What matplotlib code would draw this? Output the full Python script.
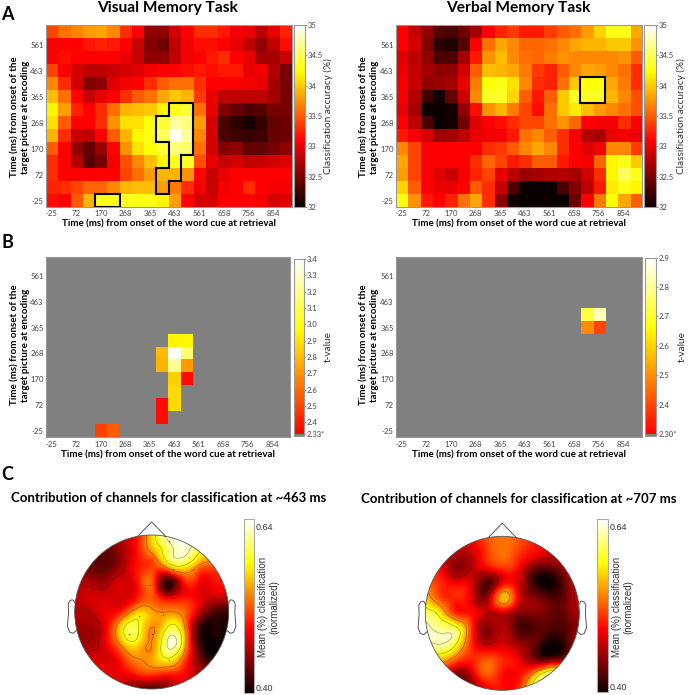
import numpy as np
import matplotlib
matplotlib.use('Agg')
import matplotlib.pyplot as plt
import matplotlib.tri as mtri
from matplotlib.colors import LinearSegmentedColormap
from matplotlib.patches import Circle

W, H = 688, 695
plt.rcParams['font.family'] = ['Lato', 'DejaVu Sans']

tempos = ['-25', '72', '170', '268', '365', '463', '561', '658', '756', '854']
tempos_y = tempos[:7]

# classification accuracy, bottom row (-25 ms) first
acc_visual = [
    [33.15,33.1,33.5,33.9,34.3,34.3,34.35,34.3,34.3,34.2,33.8,33.1,32.9,32.9,33.1,33.1,33.1,33.05,32.9,32.95],
    [33.25,33.3,33.4,33.55,33.55,33.7,33.9,33.95,33.95,33.8,33.65,33.3,33.05,32.85,33.05,33.1,33.3,33.1,33.05,33.05],
    [33.3,33.1,33.1,33.1,33.1,33.1,33.4,33.6,33.8,33.9,33.9,33.75,33.1,32.85,33.0,33.1,33.1,33.1,33.1,33.1],
    [33.3,33.1,32.75,32.35,32.5,33.05,33.45,33.7,33.95,34.2,34.3,34.35,33.45,33.0,32.85,32.9,32.8,32.85,32.9,32.95],
    [33.5,33.1,32.6,32.4,32.65,33.1,33.75,34.1,34.25,34.4,34.6,34.55,33.6,32.9,32.55,32.6,32.4,32.4,32.5,32.6],
    [33.9,33.3,32.85,32.8,33.1,33.5,33.9,34.2,34.3,34.5,34.95,34.7,33.7,32.9,32.3,32.25,32.2,32.25,32.4,32.45],
    [34.1,33.5,33.1,33.1,33.3,33.75,34.1,34.1,34.25,34.4,34.7,34.6,33.8,32.9,32.3,32.15,32.05,32.2,32.4,32.45],
    [34.2,33.8,33.25,33.1,33.3,33.6,33.9,33.95,34.0,34.2,34.3,34.4,33.6,33.0,32.55,32.4,32.3,32.35,32.5,32.5],
    [33.95,33.6,33.1,32.85,33.0,33.1,33.3,33.5,33.6,33.85,34.0,33.9,33.35,33.0,32.8,32.8,32.8,32.8,32.7,32.5],
    [33.7,33.3,32.9,32.55,32.6,32.95,33.05,33.1,33.3,33.5,33.6,33.6,33.3,33.1,33.1,33.1,33.05,33.0,32.7,32.5],
    [33.4,33.1,32.9,32.8,32.8,32.85,32.9,32.95,33.05,33.1,33.1,33.15,33.2,33.15,33.2,33.2,33.0,33.05,32.75,32.5],
    [33.1,33.15,33.1,33.1,33.1,33.1,33.0,32.85,32.6,32.6,32.8,33.05,33.1,33.2,33.3,33.1,33.0,32.7,32.7,32.85],
    [33.1,33.1,33.1,33.2,33.25,33.2,33.1,32.85,32.55,32.45,32.8,33.05,33.15,33.15,33.1,33.0,32.8,32.6,32.8,33.15],
    [33.4,33.6,33.7,33.8,33.85,33.7,33.3,33.1,32.6,32.6,32.9,33.1,33.3,33.3,33.2,33.05,33.0,32.8,33.0,33.25],
]
acc_verbal = [
    [34.3,33.75,33.2,33.1,33.25,33.6,33.85,33.3,32.6,32.05,32.0,32.0,32.0,32.0,32.45,33.1,33.65,34.25,33.85,33.5],
    [34.05,33.5,33.1,33.0,33.0,33.1,33.5,33.3,32.85,32.3,32.0,32.0,32.0,32.3,32.55,32.8,33.2,34.15,34.3,34.2],
    [33.8,33.4,33.1,32.95,32.85,33.05,33.25,33.4,33.0,32.8,32.65,32.7,32.75,32.75,32.7,32.9,33.3,34.2,34.5,34.3],
    [33.85,33.4,33.1,33.1,33.1,33.1,33.3,33.55,33.4,33.2,33.3,33.5,33.5,33.2,33.1,33.05,33.55,34.2,34.3,34.0],
    [33.7,33.4,33.1,33.1,33.1,33.1,33.1,33.3,33.35,33.5,33.7,33.85,33.7,33.3,33.1,32.95,33.05,33.7,33.7,33.35],
    [33.2,33.05,32.9,32.65,32.7,32.8,33.0,33.05,33.05,33.2,33.6,33.7,33.5,33.3,33.05,32.75,32.7,33.0,33.05,33.0],
    [33.1,32.8,32.3,32.0,32.05,32.45,32.95,33.1,33.15,33.3,33.4,33.4,33.6,33.75,33.55,33.1,33.05,33.05,33.3,33.1],
    [33.0,32.7,32.0,32.0,32.05,32.6,33.15,33.75,33.9,33.65,33.4,33.15,33.6,34.0,34.15,33.95,33.8,33.7,33.6,33.45],
    [33.05,32.75,32.25,32.05,32.4,32.85,33.7,34.35,34.35,34.05,33.5,33.2,33.5,34.0,34.35,34.35,34.35,33.9,33.7,33.45],
    [33.05,32.85,32.6,32.65,32.7,33.0,33.65,34.25,34.3,34.1,33.7,33.3,33.25,33.6,34.0,34.25,34.25,33.85,33.65,33.3],
    [33.0,32.85,32.7,32.6,32.6,32.9,33.5,33.95,33.9,33.85,33.65,33.35,33.25,33.5,33.7,33.85,33.8,33.7,33.6,33.3],
    [32.95,32.8,32.6,32.3,32.3,32.7,33.2,33.75,33.95,33.7,33.6,33.55,33.65,33.75,33.7,33.7,33.7,33.7,33.75,33.5],
    [33.1,32.9,32.55,32.15,32.1,32.35,33.1,33.6,33.85,33.7,33.55,33.55,33.6,33.7,33.85,33.9,33.9,34.0,34.0,33.75],
    [33.1,32.85,32.6,32.35,32.3,32.45,32.7,33.1,33.25,33.35,33.2,33.2,33.35,33.5,33.6,33.8,34.05,34.3,34.3,33.85],
]

# significant cells: row, column, t-value
t_linha_vis = [7, 7, 6, 6, 6, 5, 5, 5, 4, 4, 3, 2, 2, 1, 0, 0]
t_col_vis = [10, 11, 9, 10, 11, 9, 10, 11, 10, 11, 10, 9, 10, 9, 4, 5]
t_val_vis = [2.95, 2.95, 2.8, 3.38, 3.15, 2.78, 3.22, 2.72, 2.85, 2.36, 2.88, 2.36, 2.88, 2.36, 2.5, 2.57]
t_linha_ver = [9, 9, 8, 8]
t_col_ver = [15, 16, 15, 16]
t_val_ver = [2.72, 2.83, 2.5, 2.4]

# scalp maps, coarse grid, top row (front of the head) first
grade = [-1.2, -1.0, -0.8, -0.6, -0.4, -0.2, 0.0, 0.2, 0.4, 0.6, 0.8, 1.0, 1.2]
topo_463 = [
    [.47,.47,.47,.47,.47,.48,.56,.64,.65,.60,.50,.48,.48],
    [.45,.45,.45,.44,.46,.49,.57,.64,.65,.61,.52,.49,.49],
    [.45,.44,.43,.425,.45,.49,.55,.61,.64,.60,.55,.50,.49],
    [.45,.44,.43,.425,.45,.49,.51,.56,.59,.54,.52,.49,.49],
    [.46,.46,.45,.45,.47,.49,.52,.41,.49,.49,.49,.49,.48],
    [.46,.46,.47,.47,.47,.49,.52,.47,.49,.48,.47,.46,.45],
    [.46,.46,.46,.48,.50,.56,.55,.54,.53,.47,.42,.41,.41],
    [.45,.45,.45,.48,.57,.60,.54,.59,.56,.42,.40,.39,.39],
    [.45,.45,.45,.48,.55,.58,.54,.63,.58,.42,.39,.39,.39],
    [.46,.46,.47,.47,.50,.54,.55,.59,.53,.44,.40,.41,.42],
    [.46,.46,.47,.48,.48,.50,.51,.50,.49,.46,.46,.46,.46],
    [.46,.46,.46,.47,.46,.43,.42,.44,.47,.47,.47,.47,.47],
    [.46,.46,.46,.47,.46,.43,.42,.44,.47,.47,.47,.47,.47],
]
topo_707 = [
    [.48,.48,.48,.49,.50,.52,.52,.51,.49,.48,.48,.48,.48],
    [.48,.48,.47,.47,.49,.52,.53,.52,.49,.47,.47,.47,.47],
    [.47,.47,.47,.46,.47,.51,.53,.51,.49,.47,.46,.46,.46],
    [.49,.49,.48,.44,.46,.49,.51,.49,.44,.43,.45,.47,.47],
    [.52,.52,.50,.48,.47,.42,.48,.47,.41,.39,.43,.47,.47],
    [.57,.56,.51,.50,.47,.45,.56,.48,.44,.42,.43,.47,.47],
    [.61,.61,.57,.50,.49,.46,.47,.44,.44,.43,.43,.46,.46],
    [.64,.64,.62,.60,.50,.44,.46,.42,.42,.42,.42,.45,.46],
    [.62,.62,.63,.59,.50,.46,.47,.45,.43,.39,.41,.46,.46],
    [.55,.55,.56,.52,.50,.52,.50,.48,.44,.43,.45,.49,.50],
    [.50,.50,.50,.44,.47,.52,.49,.49,.55,.63,.61,.56,.52],
    [.48,.48,.48,.43,.44,.48,.49,.50,.60,.64,.63,.56,.52],
    [.48,.48,.48,.43,.44,.48,.49,.50,.60,.64,.63,.56,.52],
]
# the few electrode dots that can still be seen on the first map
canais_x = [.22, .28, -.02, -.17, -.29, .15, 0, .22]
canais_y = [.92, .56, .35, -.05, -.28, -.04, -.28, -.62]
orelha_x = [.994, 1.02, 1.036, 1.06, 1.084, 1.08, 1.094, 1.064, 1.02, .978]
orelha_y = [.111, .155, .157, .149, .111, -.011, -.186, -.263, -.277, -.24]

quente = plt.get_cmap('hot')
cmap_t = LinearSegmentedColormap.from_list('hot_t', quente(np.linspace(0.365, 1, 256)))
cmap_t.set_under('#808080')

fig = plt.figure(figsize=(W / 100, H / 100), dpi=100)


def eixo(x0, y0, x1, y1):
    return fig.add_axes([x0 / W, 1 - y1 / H, (x1 - x0) / W, (y1 - y0) / H])


def texto(x, y, s, **kw):
    kw.setdefault('ha', 'center')
    kw.setdefault('va', 'center')
    fig.text(x / W, 1 - y / H, s, **kw)


def contorno(ax, celulas):
    celulas = set(celulas)
    for r, c in celulas:
        if (r + 1, c) not in celulas:
            ax.plot([c - .5, c + .5], [r + .5, r + .5], 'k', lw=1.5, solid_capstyle='projecting')
        if (r - 1, c) not in celulas:
            ax.plot([c - .5, c + .5], [r - .5, r - .5], 'k', lw=1.5, solid_capstyle='projecting')
        if (r, c + 1) not in celulas:
            ax.plot([c + .5, c + .5], [r - .5, r + .5], 'k', lw=1.5, solid_capstyle='projecting')
        if (r, c - 1) not in celulas:
            ax.plot([c - .5, c - .5], [r - .5, r + .5], 'k', lw=1.5, solid_capstyle='projecting')


def mapa(box, dados, cmap, vmin, vmax, ylab_x, ylab_y, xlab_y):
    ax = eixo(*box)
    im = ax.imshow(dados, origin='lower', cmap=cmap, vmin=vmin, vmax=vmax, aspect='auto', interpolation='nearest')
    ax.set_xticks(range(0, 20, 2), tempos)
    ax.set_yticks(range(0, 14, 2), tempos_y)
    ax.tick_params(length=0, labelsize=5.6, colors='#444444', pad=1.5)
    ax.tick_params(axis='x', pad=2.5)
    for s in ax.spines.values():
        s.set_color('#999999')
        s.set_linewidth(0.8)
    meio_x = (box[0] + box[2]) / 2
    texto(meio_x, xlab_y, 'Time (ms) from onset of the word cue at retrieval', fontsize=7, fontweight='bold')
    texto(ylab_x, ylab_y, 'Time (ms) from onset of the\ntarget picture at encoding', fontsize=7,
          fontweight='bold', rotation=90, linespacing=1.25)
    return ax, im


def barra(im, box, ticks, labels, rotulo, rot_x, rot_y, **kw):
    cax = eixo(*box)
    cb = fig.colorbar(im, cax=cax, **kw)
    cb.set_ticks(ticks, labels=labels)
    cax.tick_params(length=1.2, width=0.4, labelsize=5.6, colors='#444444', pad=0.8)
    cb.outline.set_edgecolor('#999999')
    cb.outline.set_linewidth(0.8)
    texto(rot_x, rot_y, rotulo, fontsize=7.2, rotation=90, color='#333333')
    return cb


def cabeca(cx, cy, r, dados, bar_box, lab_x):
    lim = 1.25
    ax = eixo(cx - lim * r, cy - lim * r, cx + lim * r, cy + lim * r)
    ax.set_xlim(-lim, lim)
    ax.set_ylim(-lim, lim)
    ax.axis('off')
    xx, yy = np.meshgrid(grade, grade[::-1])
    tri = mtri.Triangulation(xx.ravel(), yy.ravel())
    interp = mtri.CubicTriInterpolator(tri, np.array(dados).ravel(), kind='min_E')
    fx, fy = np.meshgrid(np.linspace(-1.15, 1.15, 300), np.linspace(-1.15, 1.15, 300))
    z = np.clip(np.ma.filled(interp(fx, fy), np.nan), .39, .65)
    im = ax.imshow(z, origin='lower', extent=(-1.15, 1.15, -1.15, 1.15), cmap='hot', vmin=.3915, vmax=.6515)
    circ = Circle((0, 0), 1, transform=ax.transData, fc='none', ec='none')
    ax.add_patch(circ)
    im.set_clip_path(circ)
    cs = ax.contour(fx, fy, z, levels=[.43, .46, .54, .59, .63], colors='#222222', linewidths=0.3, alpha=.7)
    cs.set_clip_path(circ)
    ax.add_patch(Circle((0, 0), 1, fc='none', ec='#555555', lw=0.6))
    ax.plot([-.185, 0, .185], [.98, 1.17, .98], color='#555555', lw=0.7)
    ax.plot(orelha_x, orelha_y, color='#555555', lw=0.7)
    ax.plot(-np.array(orelha_x), orelha_y, color='#555555', lw=0.7)
    cax = eixo(*bar_box)
    cb = fig.colorbar(im, cax=cax)
    cb.set_ticks([.64, .40], labels=['0.64', '0.40'])
    cax.tick_params(length=0, labelsize=6.4, colors='#333333', pad=1)
    for t in cax.get_yticklabels():
        t.set_fontfamily('Liberation Sans')
    cb.outline.set_edgecolor('#aaaaaa')
    cb.outline.set_linewidth(0.8)
    texto(lab_x, 607, 'Mean (%) classification\n(normalized)', fontsize=7, rotation=90, color='#333333',
          family='Liberation Sans', linespacing=1.2)
    return ax


# A
ax1, im1 = mapa((45.7, 25, 291.7, 207), acc_visual, 'hot', 32, 35, 20, 117, 224)
contorno(ax1, [(7, 10), (7, 11), (6, 9), (6, 10), (6, 11), (5, 9), (5, 10), (5, 11), (4, 10), (4, 11),
               (3, 10), (2, 9), (2, 10), (1, 9)])
contorno(ax1, [(0, 4), (0, 5)])
ticks_a = [32, 32.5, 33, 33.5, 34, 34.5, 35]
labels_a = ['32', '32.5', '33', '33.5', '34', '34.5', '35']
barra(im1, (294, 25, 305, 207), ticks_a, labels_a, 'Classification accuracy (%)', 328, 116)

ax2, im2 = mapa((395.7, 25, 641.7, 207), acc_verbal, 'hot', 32, 35, 369, 117, 224)
contorno(ax2, [(9, 15), (9, 16), (8, 15), (8, 16)])
barra(im2, (644, 25, 655.7, 207), ticks_a, labels_a, 'Classification accuracy (%)', 681.7, 116)

# B
grade_vis = np.full((14, 20), 2.0)
grade_vis[t_linha_vis, t_col_vis] = t_val_vis
grade_ver = np.full((14, 20), 2.0)
grade_ver[t_linha_ver, t_col_ver] = t_val_ver

ax3, im3 = mapa((45.7, 256.7, 290.3, 437.3), grade_vis, cmap_t, 2.33, 3.4, 20, 345, 454.7)
ticks_b1 = [2.33, 2.4, 2.5, 2.6, 2.7, 2.8, 2.9, 3.0, 3.1, 3.2, 3.3, 3.4]
labels_b1 = ['2.33*', '2.4', '2.5', '2.6', '2.7', '2.8', '2.9', '3.0', '3.1', '3.2', '3.3', '3.4']
barra(im3, (294, 259, 304, 436), ticks_b1, labels_b1, 't-value', 328, 347,
      extend='min', extendrect=True, extendfrac=0.012)

ax4, im4 = mapa((395.7, 256.7, 641.7, 437.3), grade_ver, cmap_t, 2.30, 2.9, 369, 345, 454.7)
ticks_b2 = [2.30, 2.4, 2.5, 2.6, 2.7, 2.8, 2.9]
labels_b2 = ['2.30*', '2.4', '2.5', '2.6', '2.7', '2.8', '2.9']
barra(im4, (645, 257.7, 656, 436), ticks_b2, labels_b2, 't-value', 682, 347,
      extend='min', extendrect=True, extendfrac=0.012)

# C
ax5 = cabeca(151.7, 612, 77, topo_463, (243.7, 519, 254, 692.7), 268.5)
ax5.scatter(canais_x, canais_y, s=0.5, color='#222222', linewidths=0)
cabeca(502.3, 613.3, 77, topo_707, (597.3, 519, 608.3, 692), 622.5)

texto(168, 8, 'Visual Memory Task', fontsize=11.2, fontweight='bold')
texto(518, 8, 'Verbal Memory Task', fontsize=11.2, fontweight='bold')
texto(168.5, 498, 'Contribution of channels for classification at ~463 ms', fontsize=9.5, fontweight='bold')
texto(518.5, 499, 'Contribution of channels for classification at ~707 ms', fontsize=9.5, fontweight='bold')
texto(7, 15, 'A', fontsize=13, fontweight='bold')
texto(7, 242, 'B', fontsize=13, fontweight='bold')
texto(7, 475, 'C', fontsize=13, fontweight='bold')

fig.savefig('out.png', dpi=100)
plt.close(fig)
